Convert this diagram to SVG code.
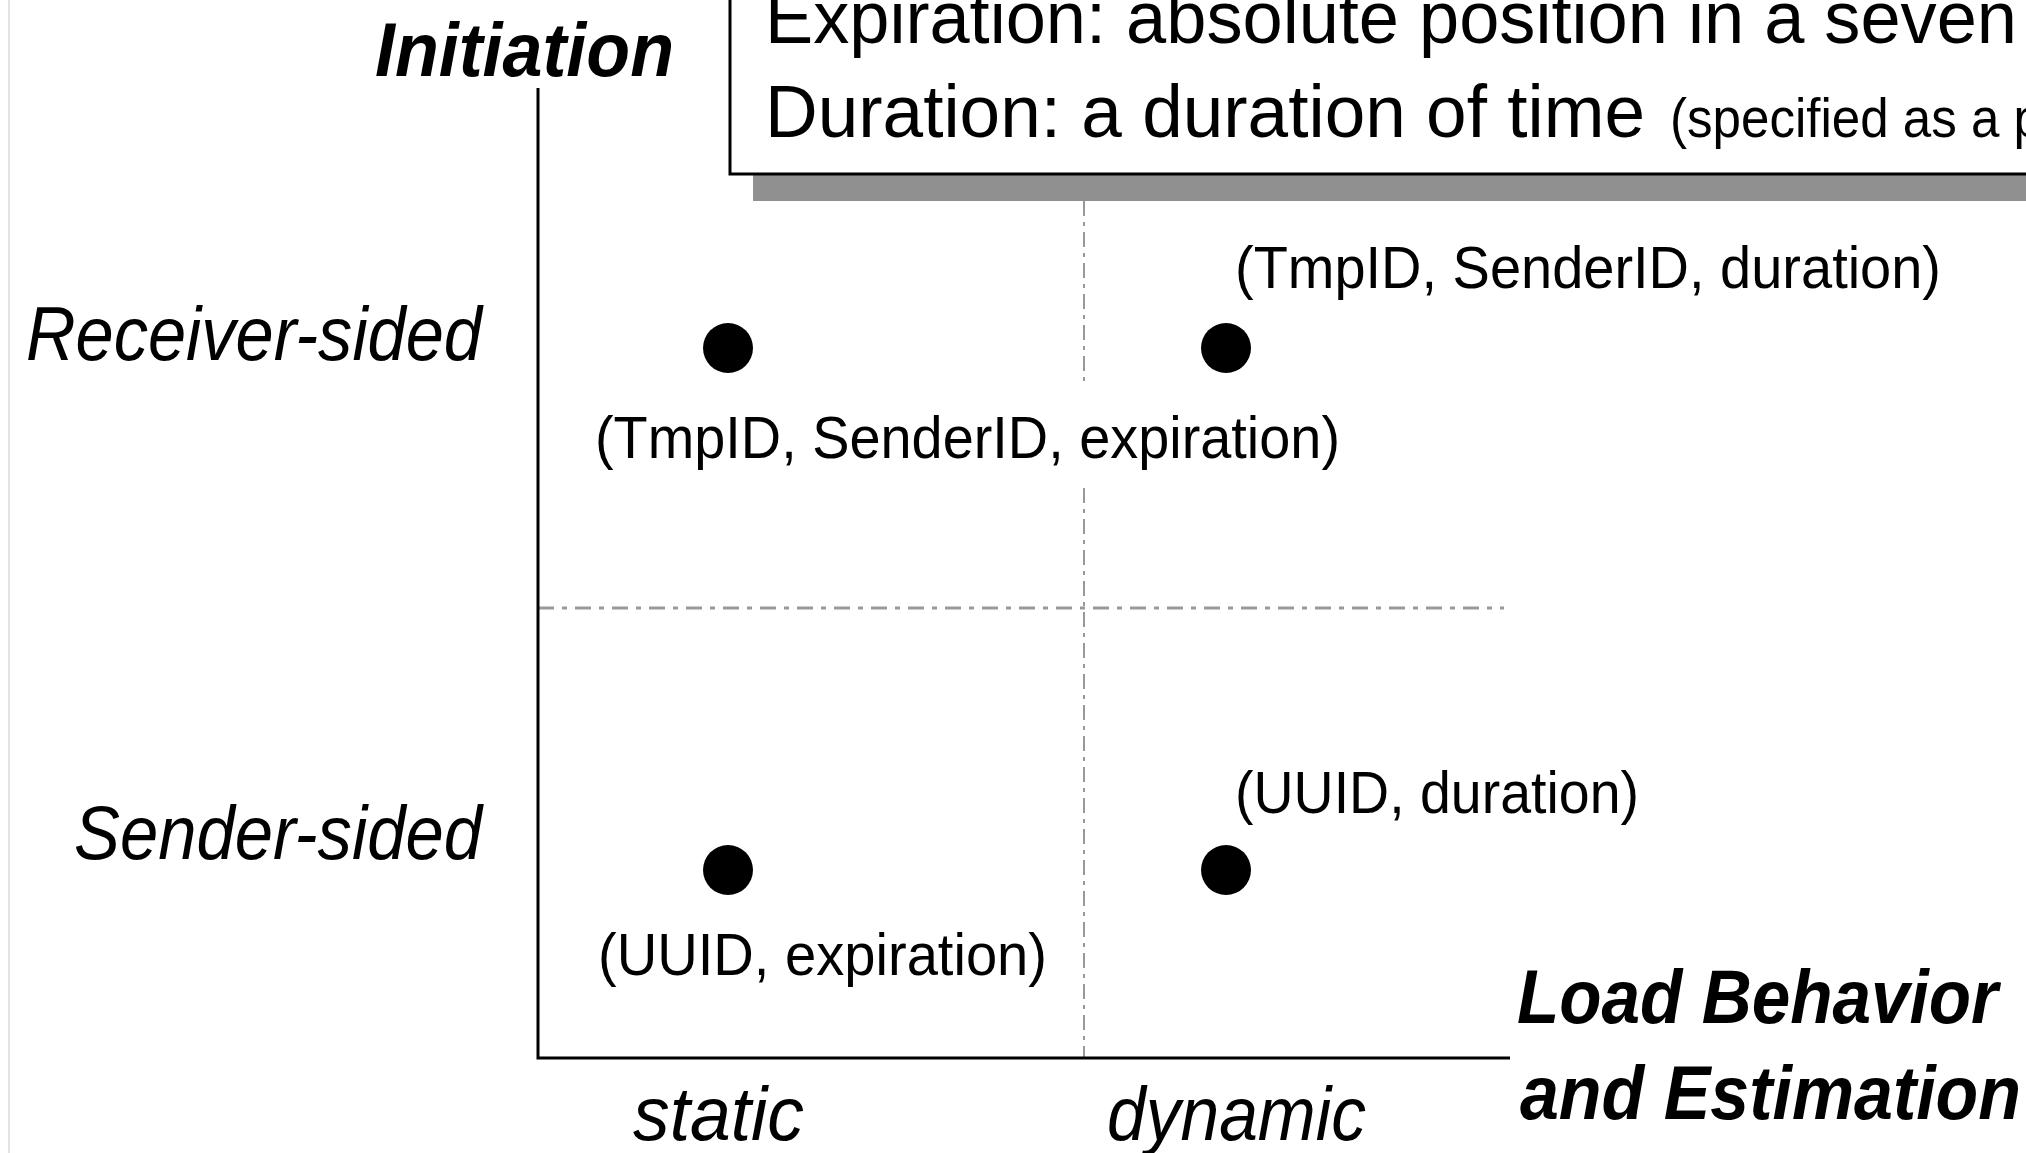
<svg xmlns="http://www.w3.org/2000/svg" width="2026" height="1153" viewBox="0 0 2026 1153">
  <style>
    .t { font-family: "Liberation Sans", Arial, sans-serif; fill: #000; }
    .ax { font-style: italic; font-size: 76px; }
    .axb { font-style: italic; font-weight: bold; font-size: 76px; }
    .lbl { font-size: 60px; }
    .note { font-size: 75px; }
    .small { font-size: 56px; }
    .axis { stroke: #000; stroke-width: 3; fill: none; }
    .vdash { stroke: #999; stroke-width: 2; stroke-dasharray: 15 6 4 6; fill: none; }
    .hdash { stroke: #999; stroke-width: 3; stroke-dasharray: 16 8 5 8; fill: none; }
    .dot { fill: #000; }
  </style>

  <rect x="0" y="0" width="2026" height="1153" fill="#fff"/>
  <!-- page edge -->
  <line x1="9" y1="0" x2="9" y2="1153" stroke="#e2e2e2" stroke-width="2"/>

  <!-- legend box with drop shadow -->
  <g id="legend">
    <rect x="753" y="-20" width="1400" height="221" fill="#909090"/>
    <rect x="730" y="-40" width="1400" height="214" fill="#fff" stroke="#000" stroke-width="3"/>
    <text class="t note" x="765" y="43" textLength="1252" lengthAdjust="spacingAndGlyphs">Expiration: absolute position in a seven</text>
    <text class="t note" x="765" y="137" textLength="880" lengthAdjust="spacingAndGlyphs">Duration: a duration of time</text>
    <text class="t small" x="1670" y="137" textLength="372" lengthAdjust="spacingAndGlyphs">(specified as a p</text>
  </g>

  <!-- axes and quadrant dividers -->
  <g id="connectors">
    <line class="vdash" x1="1084" y1="201" x2="1084" y2="384"/>
    <line class="vdash" x1="1084" y1="488" x2="1084" y2="1058"/>
    <line class="hdash" x1="538" y1="608" x2="1504" y2="608"/>
    <polyline class="axis" points="538,88 538,1058 1510,1058"/>
  </g>

  <!-- axis titles -->
  <g id="axis-initiation">
    <text class="t axb" x="375" y="76" textLength="299" lengthAdjust="spacingAndGlyphs">Initiation</text>
  </g>
  <g id="axis-load">
    <text class="t axb" x="1517" y="1023" textLength="481" lengthAdjust="spacingAndGlyphs">Load Behavior</text>
    <text class="t axb" x="1520" y="1119" textLength="501" lengthAdjust="spacingAndGlyphs">and Estimation</text>
  </g>

  <!-- category labels -->
  <g id="row-receiver">
    <text class="t ax" x="26" y="360" textLength="456" lengthAdjust="spacingAndGlyphs">Receiver-sided</text>
  </g>
  <g id="row-sender">
    <text class="t ax" x="74" y="859" textLength="408" lengthAdjust="spacingAndGlyphs">Sender-sided</text>
  </g>
  <g id="col-static">
    <text class="t ax" x="633" y="1140" textLength="171" lengthAdjust="spacingAndGlyphs">static</text>
  </g>
  <g id="col-dynamic">
    <text class="t ax" x="1107" y="1140" textLength="259" lengthAdjust="spacingAndGlyphs">dynamic</text>
  </g>

  <!-- data points -->
  <g id="point-tmpid-expiration">
    <circle class="dot" cx="728" cy="348" r="25"/>
    <text class="t lbl" x="595" y="458" textLength="745" lengthAdjust="spacingAndGlyphs">(TmpID, SenderID, expiration)</text>
  </g>
  <g id="point-tmpid-duration">
    <circle class="dot" cx="1226" cy="348" r="25"/>
    <text class="t lbl" x="1235" y="288" textLength="706" lengthAdjust="spacingAndGlyphs">(TmpID, SenderID, duration)</text>
  </g>
  <g id="point-uuid-expiration">
    <circle class="dot" cx="728" cy="870" r="25"/>
    <text class="t lbl" x="598" y="975" textLength="449" lengthAdjust="spacingAndGlyphs">(UUID, expiration)</text>
  </g>
  <g id="point-uuid-duration">
    <circle class="dot" cx="1226" cy="870" r="25"/>
    <text class="t lbl" x="1235" y="813" textLength="404" lengthAdjust="spacingAndGlyphs">(UUID, duration)</text>
  </g>
</svg>
